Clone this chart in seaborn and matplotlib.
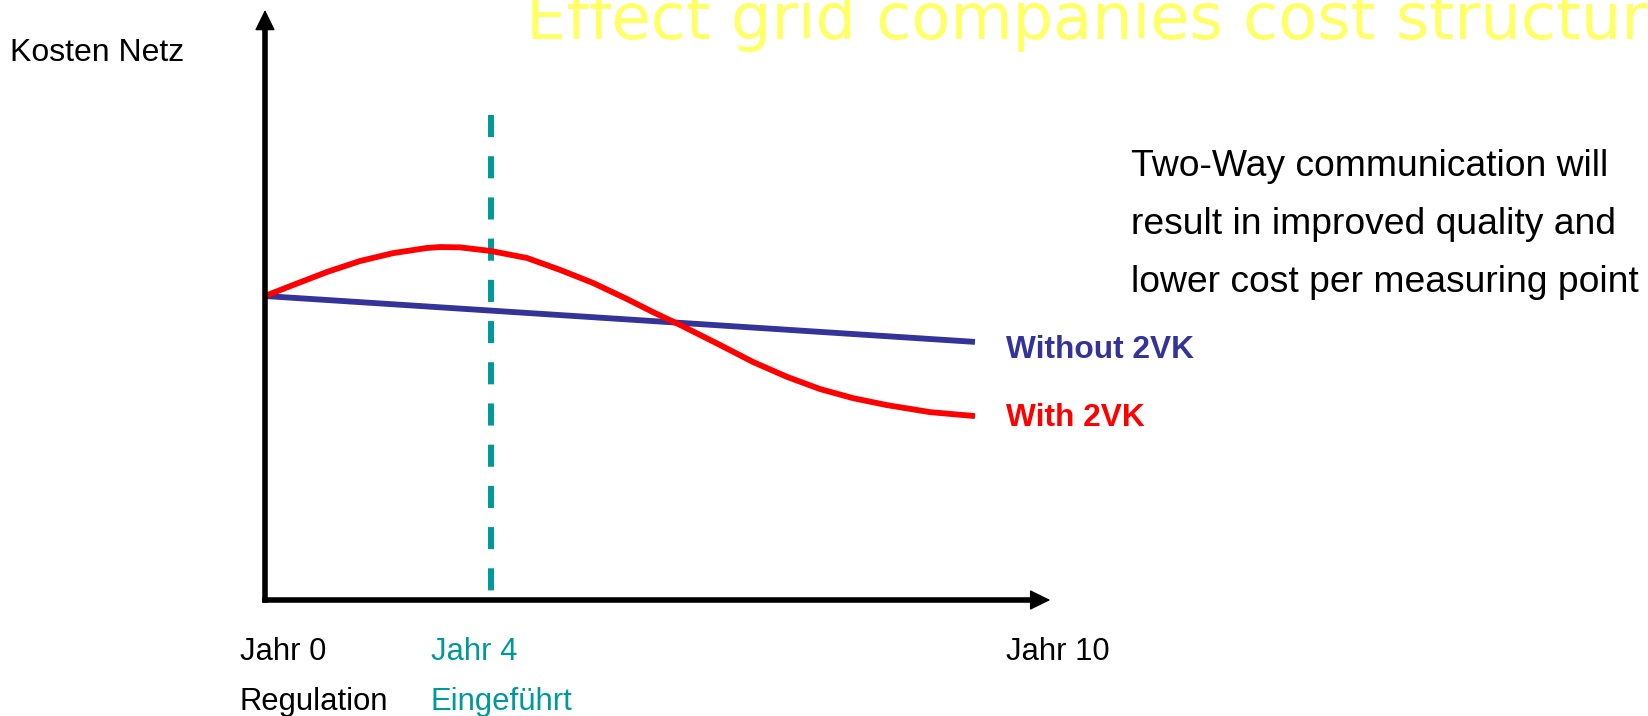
import numpy as np
import pandas as pd
import matplotlib
matplotlib.use('Agg')
import matplotlib.pyplot as plt
import seaborn as sns

sns.set_theme(style='white')
plt.rcParams['font.family'] = ['Liberation Sans', 'DejaVu Sans']
plt.rcParams['text.color'] = 'black'

# ========================================
# Data (years vs. grid cost, start = 100)
# ========================================
years_without = [0, 10]
cost_without = [100, 84.9]

years_with = [0, 0.394, 0.873, 1.338, 1.803, 2.282, 2.465, 2.746, 3.183, 3.690, 4.155,
              4.620, 5.099, 5.465, 5.845, 6.408, 6.873, 7.352, 7.817, 8.282, 8.761,
              9.366, 10]
cost_with = [100, 103.6, 107.9, 111.5, 114.1, 115.8, 116.1, 116.0, 114.8, 112.5, 108.6,
             104.3, 99.0, 94.7, 90.5, 83.9, 78.3, 73.4, 69.4, 66.4, 64.1,
             61.8, 60.5]

regulation_year = 3.18
series_labels = ['Without 2VK', 'With 2VK']
tick_labels = ['Jahr 0', 'Jahr 4', 'Jahr 10']
tick_sublabels = ['Regulation', 'Eingeführt']
title = 'Effect grid companies cost structure'
y_label = 'Kosten Netz'
note_lines = ['Two-Way communication will',
              'result in improved quality and',
              'lower cost per measuring point']

BLUE = '#333399'
RED = '#FF0000'
TEAL = '#009999'
YELLOW = '#FFFF66'

df = pd.concat([
    pd.DataFrame({'year': years_without, 'cost': cost_without, 'series': series_labels[0]}),
    pd.DataFrame({'year': years_with, 'cost': cost_with, 'series': series_labels[1]}),
])

W, H = 1649, 716
fig = plt.figure(figsize=(W / 100, H / 100), dpi=100)
ax = fig.add_axes([0, 0, 1, 1])

# scale: origin at pixel (265, 600), 71 px per year, 3.04 px per cost unit
ax.set_xlim(-265 / 71, (W - 265) / 71)
ax.set_ylim((600 - H) / 3.04, 600 / 3.04)
ax.axis('off')

# regulation line (drawn top -> bottom so the dash pattern starts at the top)
ax.plot([regulation_year, regulation_year], [159.5, 0], color=TEAL, linewidth=4.3,
        dashes=(3.7, 3.2), solid_capstyle='butt')

sns.lineplot(data=df, x='year', y='cost', hue='series',
             palette={series_labels[0]: BLUE, series_labels[1]: RED},
             linewidth=4.2, legend=False, ax=ax, sort=False)
for ln in ax.lines[1:]:
    ln.set_solid_joinstyle('round')
    ln.set_solid_capstyle('butt')

# axes with arrow heads
y_tip, x_tip = 194.1, 11.06
ax.plot([0, 0], [0, y_tip - 5], color='black', lw=4.0, solid_capstyle='projecting')
ax.plot([0, x_tip - 0.2], [0, 0], color='black', lw=4.0, solid_capstyle='projecting')
head = dict(arrowstyle='-|>,head_length=0.65,head_width=0.32', lw=1, color='black',
            mutation_scale=20, shrinkA=0, shrinkB=0)
ax.annotate('', xy=(0, y_tip), xytext=(0, y_tip - 8), arrowprops=head)
ax.annotate('', xy=(x_tip, 0), xytext=(x_tip - 0.35, 0), arrowprops=head)

# series labels
ax.text(10.44, cost_without[-1] - 5.2, series_labels[0], color=BLUE, fontsize=22.8,
        fontweight='bold', va='baseline')
ax.text(10.44, cost_with[-1] - 3.3, series_labels[1], color=RED, fontsize=22.8,
        fontweight='bold', va='baseline')

# text helpers in figure pixels
def px(x, y):
    return x / W, 1 - y / H

fig.text(*px(526, 38.5), title, color=YELLOW, fontsize=46, family='DejaVu Sans',
         va='baseline')
fig.text(*px(10, 61), y_label, fontsize=23, va='baseline')

fig.text(*px(240, 660), tick_labels[0], fontsize=22.3, va='baseline')
fig.text(*px(431, 660), tick_labels[1], fontsize=22.3, va='baseline', color=TEAL)
fig.text(*px(1006, 660), tick_labels[2], fontsize=22.3, va='baseline')
fig.text(*px(240, 710), tick_sublabels[0], fontsize=22.3, va='baseline')
fig.text(*px(431, 710), tick_sublabels[1], fontsize=22.3, va='baseline', color=TEAL)

for i, s in enumerate(note_lines):
    fig.text(*px(1131, 176 + 58 * i), s, fontsize=26.8, va='baseline')

fig.savefig('out.png', dpi=100)
plt.close(fig)
